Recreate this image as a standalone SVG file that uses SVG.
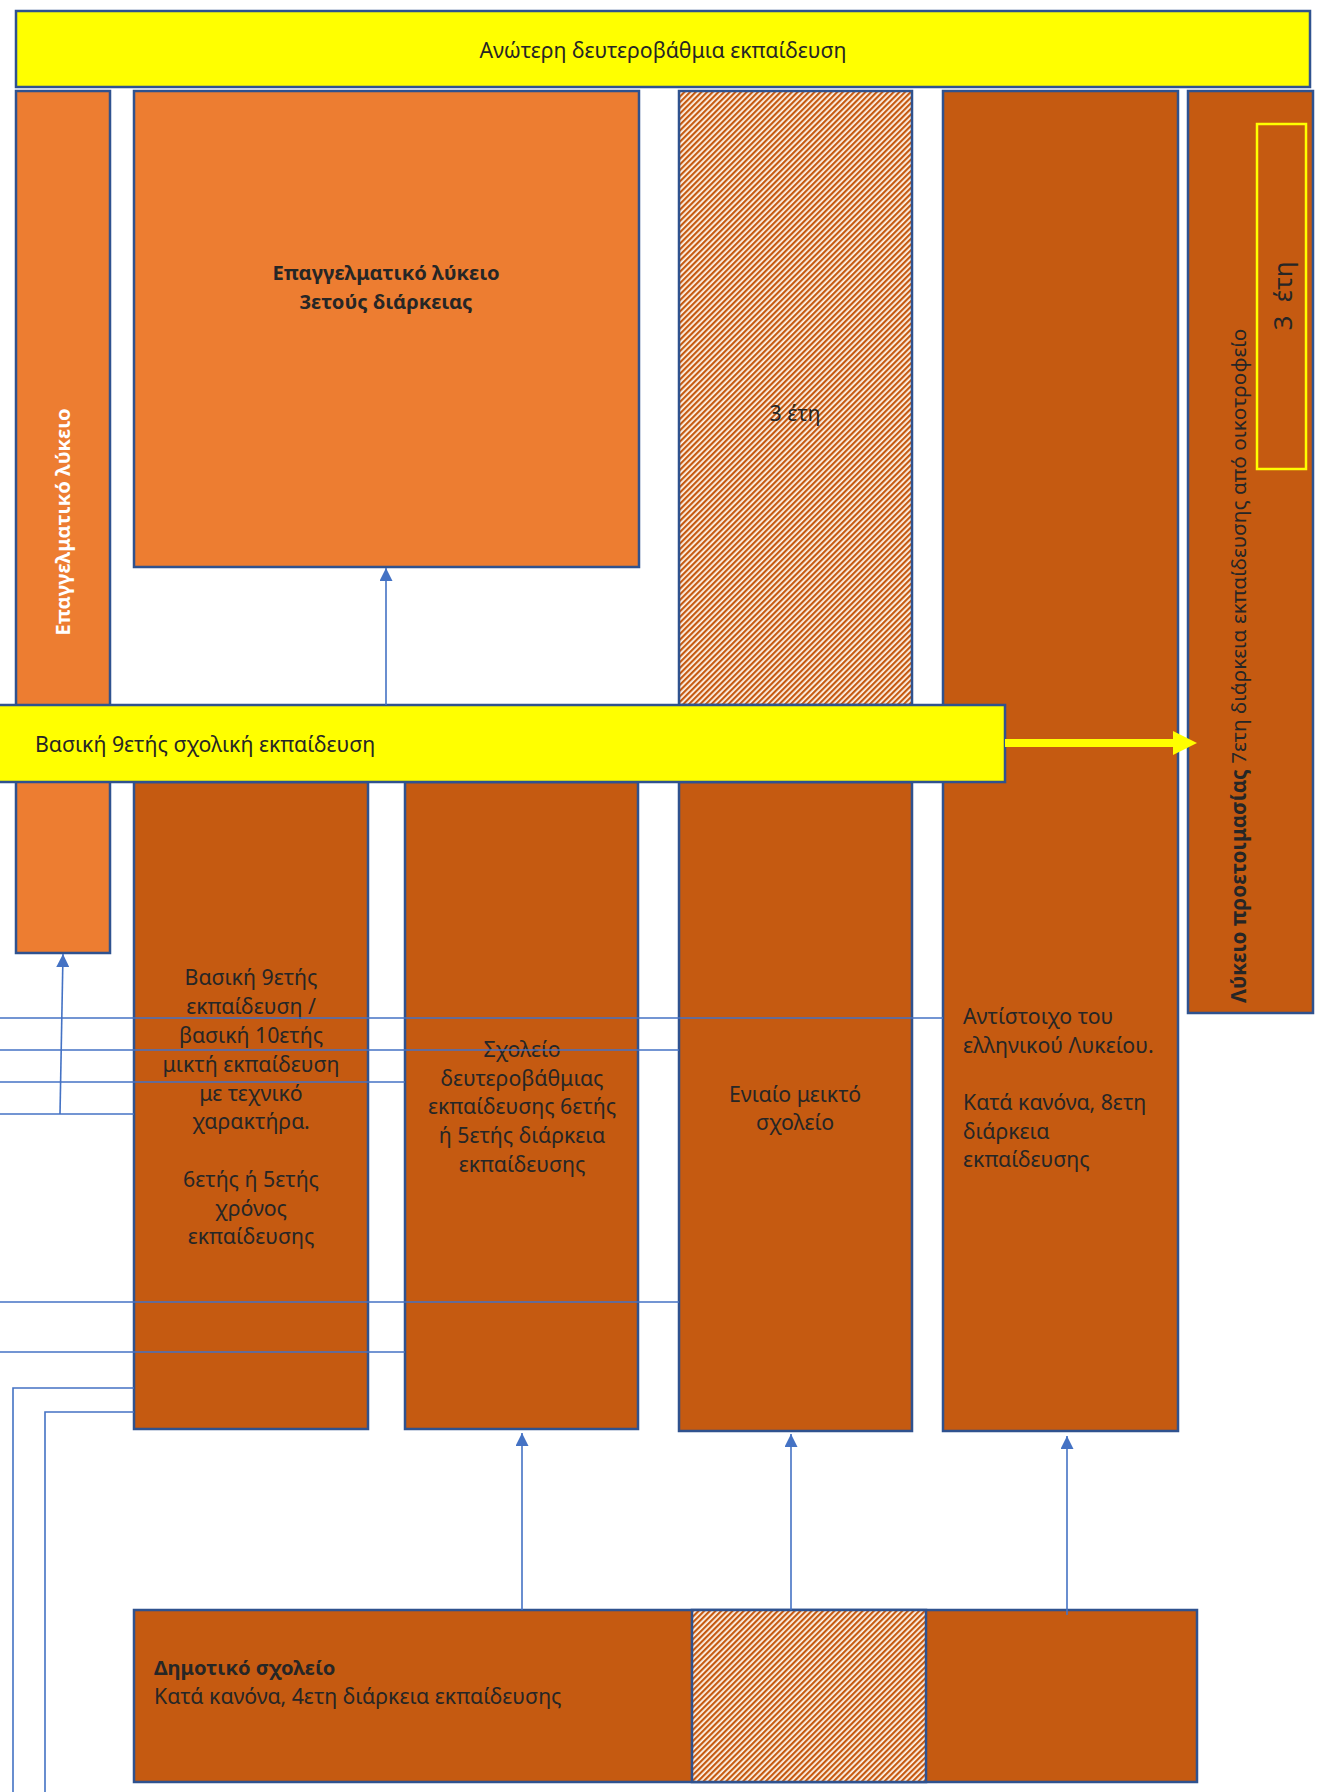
<svg xmlns="http://www.w3.org/2000/svg" width="1319" height="1792" viewBox="0 0 1319 1792">
<style>
.box{stroke:#2F528F;stroke-width:2.5}
.yel{fill:#FFFF00}
.lor{fill:#ED7D31}
.dor{fill:#C55A11}
.t{font-family:"Noto Sans","Open Sans","DejaVu Sans",sans-serif;font-size:21.3px;fill:#262626}
.c{text-anchor:middle}
.b{font-weight:bold;font-size:20.2px}
.conn{stroke:#4472C4;stroke-width:1.6;fill:none}
</style>
<defs>
<pattern id="hatch" width="4" height="4" patternUnits="userSpaceOnUse" patternTransform="rotate(45)">
<rect width="4" height="4" fill="#FFF6EC"/>
<rect width="2.2" height="4" fill="#C55A11"/>
</pattern>
<marker id="arr" viewBox="0 0 10 10" refX="10" refY="5" markerWidth="14" markerHeight="13" markerUnits="userSpaceOnUse" orient="auto">
<path d="M0,0 L10,5 L0,10 z" fill="#4472C4"/>
</marker>
</defs>

<g id="upper-secondary">
<rect class="box yel" x="16" y="11" width="1294" height="76"/>
<text class="t c" x="663" y="58">Ανώτερη δευτεροβάθμια εκπαίδευση</text>
</g>

<g id="vocational-left">
<rect class="box lor" x="16" y="91" width="94" height="862"/>
<text class="t c b" transform="translate(70,522) rotate(-90)" style="fill:#FFFFFF">Επαγγελματικό λύκειο</text>
</g>

<g id="vocational-3yr">
<rect class="box lor" x="134" y="91" width="505" height="476"/>
<text class="t c b" x="386" y="280">Επαγγελματικό λύκειο</text>
<text class="t c b" x="386" y="309">3ετούς διάρκειας</text>
</g>

<g id="hatched-3yr">
<rect class="box" x="679" y="91" width="233" height="614" fill="url(#hatch)"/>
<text class="t c" x="795" y="421">3 έτη</text>
</g>

<g id="greek-lyceum">
<rect class="box dor" x="943" y="91" width="235" height="1340"/>
<text class="t" x="963" y="1024">Αντίστοιχο του</text>
<text class="t" x="963" y="1053">ελληνικού Λυκείου.</text>
<text class="t" x="963" y="1110">Κατά κανόνα, 8ετη</text>
<text class="t" x="963" y="1139">διάρκεια</text>
<text class="t" x="963" y="1167">εκπαίδευσης</text>
</g>

<g id="prep-lyceum">
<rect class="box dor" x="1188" y="91" width="125" height="922"/>
<rect x="1257" y="124" width="49" height="345" fill="none" stroke="#FFFF00" stroke-width="2.5"/>
<text class="t c" transform="translate(1292,296) rotate(-90)" style="font-size:26px" xml:space="preserve">3  έτη</text>
<text class="t" transform="translate(1246,1003) rotate(-90)" style="font-size:20.8px"><tspan style="font-weight:bold">Λύκειο προετοιμασίας</tspan> 7ετη διάρκεια εκπαίδευσης από οικοτροφείο</text>
</g>

<g id="col-technical">
<rect class="box dor" x="134" y="782" width="234" height="647"/>
<text class="t c" x="251" y="985">Βασική 9ετής</text>
<text class="t c" x="251" y="1014">εκπαίδευση /</text>
<text class="t c" x="251" y="1043">βασική 10ετής</text>
<text class="t c" x="251" y="1072">μικτή εκπαίδευση</text>
<text class="t c" x="251" y="1101">με τεχνικό</text>
<text class="t c" x="251" y="1129">χαρακτήρα.</text>
<text class="t c" x="251" y="1187">6ετής ή 5ετής</text>
<text class="t c" x="251" y="1216">χρόνος</text>
<text class="t c" x="251" y="1244">εκπαίδευσης</text>
</g>

<g id="col-secondary">
<rect class="box dor" x="405" y="782" width="233" height="647"/>
<text class="t c" x="522" y="1057">Σχολείο</text>
<text class="t c" x="522" y="1086">δευτεροβάθμιας</text>
<text class="t c" x="522" y="1114">εκπαίδευσης 6ετής</text>
<text class="t c" x="522" y="1143">ή 5ετής διάρκεια</text>
<text class="t c" x="522" y="1172">εκπαίδευσης</text>
</g>

<g id="col-unified">
<rect class="box dor" x="679" y="782" width="233" height="649"/>
<text class="t c" x="795" y="1102">Ενιαίο μεικτό</text>
<text class="t c" x="795" y="1130">σχολείο</text>
</g>

<g id="basic-9yr">
<rect class="box yel" x="-5" y="705" width="1010" height="77"/>
<text class="t" x="35" y="752">Βασική 9ετής σχολική εκπαίδευση</text>
</g>

<g id="primary">
<rect class="box dor" x="134" y="1610" width="1063" height="172"/>
<rect class="box" x="692" y="1610" width="234" height="172" fill="url(#hatch)"/>
<text class="t b" x="154" y="1675">Δημοτικό σχολείο</text>
<text class="t" x="154" y="1704">Κατά κανόνα, 4ετη διάρκεια εκπαίδευσης</text>
</g>

<g id="connectors">
<line class="conn" x1="0" y1="1018" x2="943" y2="1018"/>
<line class="conn" x1="0" y1="1050" x2="679" y2="1050"/>
<line class="conn" x1="0" y1="1082" x2="405" y2="1082"/>
<line class="conn" x1="0" y1="1114" x2="134" y2="1114"/>
<line class="conn" x1="0" y1="1302" x2="679" y2="1302" stroke-width="2.6"/>
<line class="conn" x1="0" y1="1352" x2="405" y2="1352"/>
<polyline class="conn" points="134,1388 13,1388 13,1792"/>
<polyline class="conn" points="134,1412 45,1412 45,1792"/>
<line class="conn" x1="60" y1="1114" x2="63" y2="954" stroke-width="2" marker-end="url(#arr)"/>
<line class="conn" x1="386" y1="705" x2="386" y2="568" stroke-width="2" marker-end="url(#arr)"/>
<line class="conn" x1="522" y1="1610" x2="522" y2="1433" stroke-width="2" marker-end="url(#arr)"/>
<line class="conn" x1="791" y1="1610" x2="791" y2="1434" stroke-width="2" marker-end="url(#arr)"/>
<line class="conn" x1="1067" y1="1615" x2="1067" y2="1436" stroke-width="2" marker-end="url(#arr)"/>
<line x1="1005" y1="743" x2="1176" y2="743" stroke="#FFFF00" stroke-width="8"/>
<polygon points="1173,731 1197,743 1173,755" fill="#FFFF00"/>
</g>
</svg>
